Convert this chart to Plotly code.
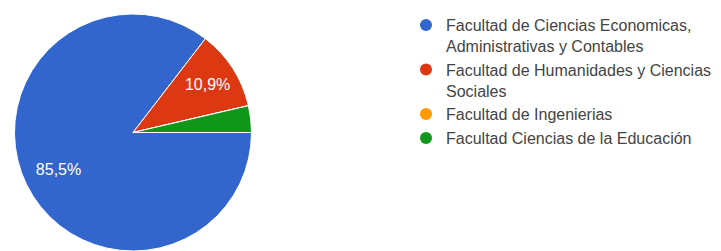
import plotly.graph_objects as go

labels = [
    "Facultad de Ciencias Economicas,<br>Administrativas y Contables",
    "Facultad de Humanidades y Ciencias<br>Sociales",
    "Facultad de Ingenierias",
    "Facultad Ciencias de la Educación",
]
counts = [47, 6, 0, 2]
colors = ["#3366cc", "#dc3912", "#ff9900", "#109618"]
slice_text = ["%{percent:.1%}", "%{percent:.1%}", "", ""]

FONT = "Liberation Sans, Arial, sans-serif"
W, H = 713, 243  # page body adds an 8px margin
pie_domain = dict(x=[3.5 / W, 246.5 / W], y=[0, 1])

fig = go.Figure()
# filled slices
fig.add_trace(go.Pie(
    labels=labels,
    values=counts,
    sort=False,
    direction="clockwise",
    rotation=90,
    marker=dict(colors=colors, line=dict(color="white", width=1)),
    textinfo="none",
    domain=pie_domain,
    showlegend=False,
    hoverinfo="label+percent",
))
# percentage labels, placed in an outer ring like the original
fig.add_trace(go.Pie(
    labels=labels,
    values=counts,
    sort=False,
    direction="clockwise",
    rotation=90,
    hole=0.4,
    marker=dict(colors=["rgba(0,0,0,0)"] * len(counts), line=dict(width=0)),
    texttemplate=slice_text,
    textposition="inside",
    insidetextorientation="horizontal",
    textfont=dict(color="white", size=16, family=FONT),
    domain=pie_domain,
    showlegend=False,
    hoverinfo="skip",
))

for lab, col in zip(labels, colors):
    fig.add_trace(go.Scatter(
        x=[None], y=[None], mode="markers", name=lab,
        marker=dict(color=col, size=12, symbol="circle"),
        showlegend=True, hoverinfo="skip",
    ))

fig.update_layout(
    width=W, height=H,
    margin=dict(l=0, r=0, t=0, b=0),
    paper_bgcolor="white", plot_bgcolor="white",
    separators=",.",
    xaxis=dict(visible=False), yaxis=dict(visible=False),
    legend=dict(
        x=398 / W, xanchor="left", y=0.716, yanchor="middle",
        font=dict(size=16, color="#444444", family=FONT),
        valign="top", bgcolor="rgba(0,0,0,0)", itemclick=False,
        tracegroupgap=0,
    ),
)

fig.write_html("out.html")
